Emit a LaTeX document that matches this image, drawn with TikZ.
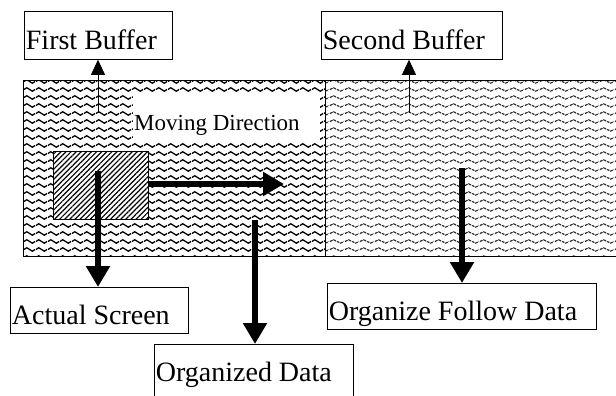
\documentclass[tikz,border=0pt]{standalone}
\usepackage{fontspec}
\setmainfont{Liberation Serif}
\usetikzlibrary{arrows.meta,patterns.meta}

% wave fills of the two buffers
\tikzdeclarepattern{
  name=wavesdark,
  type=uncolored,
  bounding box={(0pt,0pt) and (12pt,7.5pt)},
  tile size={(12pt,7.5pt)},
  code={
    \draw[line width=1.4pt] (0pt,3.75pt) sin (3pt,5.6pt) cos (6pt,3.75pt) sin (9pt,1.9pt) cos (12pt,3.75pt);
  }
}
\tikzdeclarepattern{
  name=waveslight,
  type=uncolored,
  bounding box={(0pt,0pt) and (15pt,7.5pt)},
  tile size={(15pt,7.5pt)},
  code={
    \draw[line width=1.3pt, dash pattern=on 3pt off 1pt] (0pt,3.75pt) sin (3.75pt,5.5pt) cos (7.5pt,3.75pt) sin (11.25pt,2pt) cos (15pt,3.75pt);
  }
}

\newcommand{\lefttext}[2]{\makebox[#1][l]{#2}}

\tikzset{
  lbl/.style={draw, line width=0.8pt, anchor=north west, inner xsep=1.5pt, inner ysep=0pt,
    minimum height=46pt, text height=29pt, text depth=0pt,
    font=\fontsize{28}{30}\selectfont},
  buf/.style={draw, line width=1.3pt, anchor=north west, inner sep=0pt,
    minimum height=176pt},
  thinarrow/.style={line width=0.8pt, -{Triangle[length=15pt,width=14pt]}},
  thickarrow/.style={line width=6pt, -{Triangle[length=21pt,width=23pt]}}
}

\begin{document}
\begin{tikzpicture}[x=1pt,y=-1pt]
\useasboundingbox (0,0) rectangle (616,396);

% buffers
\node[buf, pattern=waveslight, pattern color=black!80, minimum width=310pt] (secondbuf) at (325,80) {};
\node[buf, pattern=wavesdark, minimum width=302pt] (firstbuf) at (23,80) {};
\node[fill=white, anchor=north west, inner sep=1pt, minimum height=48pt,
  text height=22pt, text depth=0pt,
  font=\fontsize{23}{25}\selectfont] (moving) at (133,95) {\lefttext{185pt}{Moving Direction}};
\node[draw, line width=1pt, anchor=north west, inner sep=0pt, minimum width=95pt, minimum height=68pt,
  preaction={fill=white}, pattern={Lines[angle=45,distance=3.6pt,line width=1.2pt]}] (screen) at (53,151) {};

% labels
\node[lbl, minimum height=48pt] (first) at (24,11) {\lefttext{145pt}{First Buffer}};
\node[lbl, minimum height=48pt] (second) at (321,11) {\lefttext{178pt}{Second Buffer}};
\node[lbl] (actual) at (10,287) {\lefttext{175pt}{Actual Screen}};
\node[lbl] (follow) at (327,283) {\lefttext{266pt}{Organize Follow Data}};
\node[lbl, minimum height=64pt, text depth=18pt] (organized) at (154,344) {\lefttext{196pt}{Organized Data}};

% free ends
\coordinate (f1) at (98,113);
\coordinate (s1) at (409,113);
\coordinate (sc) at (98,171);
\coordinate (movetip) at (284,184);
\coordinate (od) at (255,220);
\coordinate (fd) at (462,168);

% connectors
\draw[thinarrow] (f1) -- (f1 |- first.south);
\draw[thinarrow] (s1) -- (s1 |- second.south);
\draw[thickarrow] (screen.east |- movetip) -- (movetip);
\draw[thickarrow] (sc) -- (sc |- actual.north);
\draw[thickarrow] (od) -- (od |- organized.north);
\draw[thickarrow] (fd) -- (fd |- follow.north);
\end{tikzpicture}
\end{document}
